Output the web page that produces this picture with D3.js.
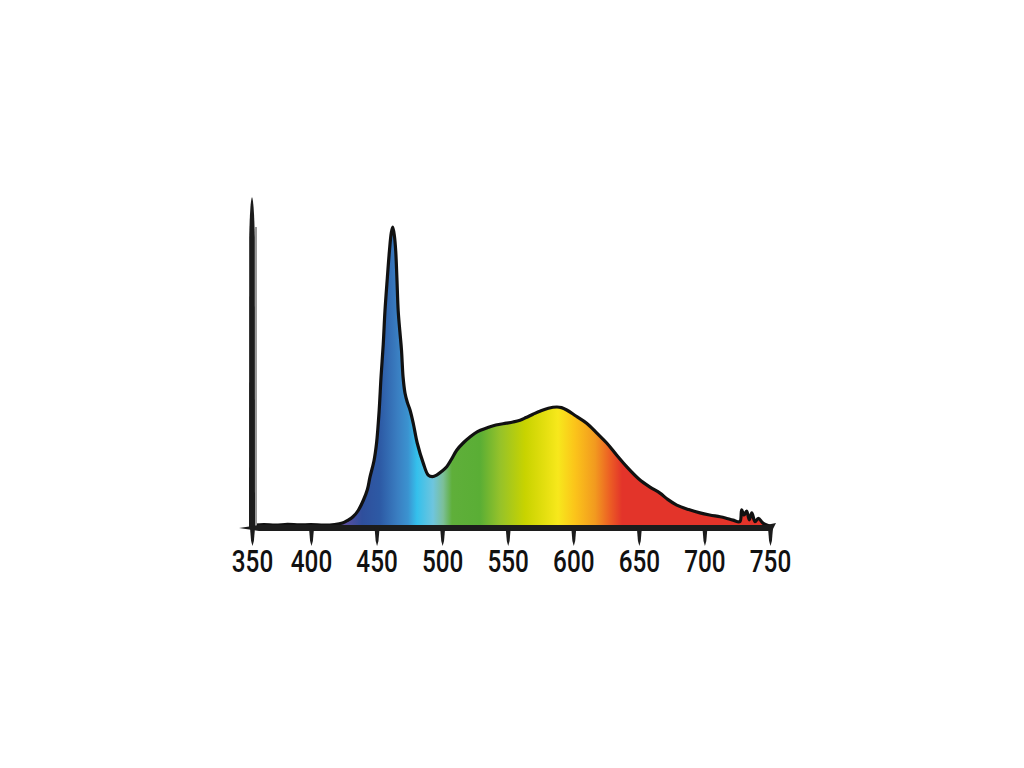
<!doctype html>
<html lang="en">
<head>
    <title>Spectrum</title>
    <meta charset="utf-8"/>
    <script src="https://d3js.org/d3.v7.min.js"></script>
    <style>
        body {
            margin: 0;
            padding: 0;
            background: #ffffff;
        }
        svg {
            display: block;
        }
    </style>
</head>
<body>
<script>

    // wavelength (nm) and relative intensity (peak = 100)
    const wavelengths = [352, 360, 370, 380, 390, 400, 410, 418, 424, 428, 432, 436, 440, 443, 445, 448, 450, 452,
        453.4, 455.1, 456.4, 458.2, 459.8, 461.2, 462.3, 463.6, 464.6, 465.5, 466.5, 467.8, 469, 470.2, 471.7,
        473.5, 475.5, 478, 481, 485.6, 489.4, 492.5, 495.8, 499.5, 503.5, 507, 511.1, 516, 521.2, 527, 534, 541,
        549, 554, 559.4, 564, 569.3, 575, 581, 587.4, 591, 595, 602, 610.2, 618, 625.5, 633, 640.7, 650, 658.5,
        666.1, 672, 678.9, 688, 696.6, 704, 711.9, 716, 721.8, 727, 728.4, 730.2, 732.2, 734.2, 736.1, 738.6,
        741.1, 744.9, 751.3]
    const intensity = [0.6, 0.8, 0.6, 0.9, 0.7, 0.8, 0.6, 0.8, 1.3, 2.2, 3.4, 5.5, 9.0, 12.5, 16.7, 22, 28, 39,
        50, 61, 72, 83, 92, 98, 100, 97, 92, 83, 72, 65, 59, 50, 44.6,
        41.5, 39, 34.5, 28, 21.3, 17.3, 16.8, 17.3, 18.5, 20.1, 22.5, 25.6, 28, 30, 31.8, 33, 34,
        34.6, 35, 35.6, 36.5, 37.6, 38.7, 39.6, 40, 39.8, 39, 37, 34.6, 31.3, 28, 24, 20.1, 16, 13.3,
        11.3, 9.2, 7.3, 5.8, 4.7, 4.0, 3.4, 3.0, 2.3, 1.8, 5.7, 4.0, 5.3, 2.4, 4.7, 1.8,
        2.9, 1.2, 0.1]

    // colour of the fill along the wavelength axis
    const colorStops = [425.9, 438.9, 452.6, 466.3, 474, 480.8, 493, 500.7, 507.5, 528.9, 544.1, 563.2, 578.4,
        588.3, 601.3, 616.6, 628, 637.2, 753]
    const colorValues = ['#5b4ea0', '#2f4f9c', '#2d5aa5', '#3a7fc2', '#3b93d0', '#34c0ec', '#6ec5de', '#7cbf9a',
        '#5faf3a', '#5aae35', '#95c22a', '#c8d300', '#e4df10', '#f7e81c', '#fbc41a', '#f29a1f', '#ec5e24',
        '#e3342a', '#e3342a']

    const tickValues = [350, 400, 450, 500, 550, 600, 650, 700, 750]

    const width = 1024
    const height = 768

    const svg = d3.select('body')
        .append('svg')
        .attr('width', width)
        .attr('height', height)

    // the 350 tick sits a little closer to 400 than the others do
    const x = d3.scaleLinear().domain([350, 400, 750]).range([252, 311, 770])
    const y = d3.scaleLinear().domain([0, 110]).range([527, 197])

    const data = wavelengths.map((w, i) => ({w: w, v: intensity[i]}))

    // gradient fill
    const x1 = x(colorStops[0])
    const x2 = x(colorStops[colorStops.length - 1])
    const grad = svg.append('defs')
        .append('linearGradient')
        .attr('id', 'spectrum')
        .attr('gradientUnits', 'userSpaceOnUse')
        .attr('x1', x1).attr('x2', x2)
        .attr('y1', 0).attr('y2', 0)
    grad.selectAll('stop')
        .data(colorStops)
        .enter()
        .append('stop')
        .attr('offset', d => (x(d) - x1) / (x2 - x1))
        .attr('stop-color', (d, i) => colorValues[i])

    const curve = d3.curveCatmullRom.alpha(0.5)

    const area = d3.area()
        .x(d => x(d.w))
        .y0(y(0))
        .y1(d => y(d.v))
        .curve(curve)

    const line = d3.line()
        .x(d => x(d.w))
        .y(d => y(d.v))
        .curve(curve)

    svg.append('path')
        .datum(data)
        .attr('d', area)
        .attr('fill', 'url(#spectrum)')

    svg.append('path')
        .datum(data)
        .attr('d', line)
        .attr('fill', 'none')
        .attr('stroke', '#111')
        .attr('stroke-width', 3.2)
        .attr('stroke-linejoin', 'round')

    // brush-like vertical axis at 350
    const ax = x(350)
    const yb = y(0) + 1
    const yt = y(110)
    svg.append('line')
        .attr('x1', ax + 4).attr('x2', ax + 4)
        .attr('y1', y(100)).attr('y2', yb)
        .attr('stroke', '#9a9a9a')
        .attr('stroke-width', 2)
    svg.append('path')
        .attr('d', `M${ax - 3},${yb} L${ax - 2.8},${yt + 40} Q${ax - 2},${yt + 4} ${ax},${yt} ` +
            `Q${ax + 2},${yt + 4} ${ax + 2.8},${yt + 40} L${ax + 3},${yb} Z`)
        .attr('fill', '#1c1c1c')

    // thick baseline with tapered ends
    const bl = x(350) - 13
    const br = x(750) + 6
    const by = y(0) + 1
    svg.append('path')
        .attr('d', `M${bl},${by} L${bl + 20},${by - 3} L${br - 10},${by - 3} L${br},${by - 5} ` +
            `L${br - 4},${by + 3} L${bl + 20},${by + 3} Z`)
        .attr('fill', '#1c1c1c')

    // x axis: tapered ticks and condensed labels
    const axis = svg.append('g')
        .attr('transform', `translate(0,${by})`)
        .call(d3.axisBottom(x).tickValues(tickValues).tickSize(0).tickFormat(d3.format('d')))
    axis.select('.domain').remove()
    axis.selectAll('.tick')
        .append('path')
        .attr('d', 'M-2.5,0 L2.5,0 L1.4,13 L0,18 L-1.4,13 Z')
        .attr('fill', '#1c1c1c')
    axis.selectAll('.tick text')
        .attr('y', 44)
        .attr('dy', 0)
        .attr('transform', 'scale(0.76,1)')
        .attr('fill', '#111')
        .style('font-family', 'Roboto, sans-serif')
        .style('font-weight', 500)
        .style('font-size', '32px')

</script>
</body>
</html>
